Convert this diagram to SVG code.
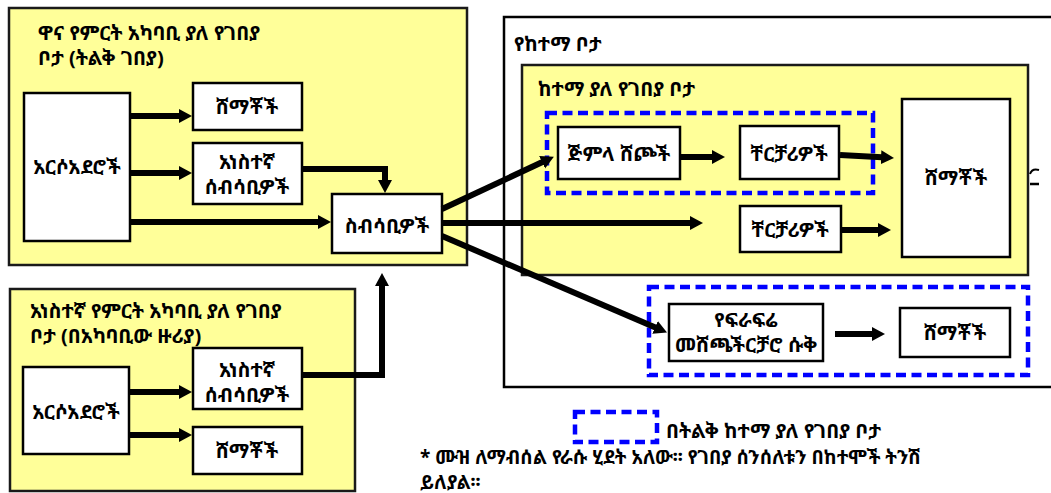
<svg xmlns="http://www.w3.org/2000/svg" width="1051" height="493" viewBox="0 0 1051 493">
<style>
.bg{fill:#ffff99;stroke:#1a1a1a;stroke-width:2.5}
.box{fill:#ffffff;stroke:#000;stroke-width:2.5}
.outer{fill:#ffffff;stroke:#000;stroke-width:2.5}
.dash{fill:none;stroke:#0000ff;stroke-width:4.5;stroke-dasharray:10 5.5}
.t{font-family:"Noto Sans Ethiopic","Abyssinica SIL","Noto Serif Ethiopic","DejaVu Sans",sans-serif;font-size:20px;font-weight:bold;fill:#000}
.f{font-size:19px}
.c{text-anchor:middle}
.ar{fill:none;stroke:#000;stroke-width:6}
</style>
<defs>
<marker id="ah" markerUnits="userSpaceOnUse" viewBox="0 -8 14 16" refX="1" refY="0" markerWidth="14" markerHeight="16" orient="auto">
<path d="M0,-7 L13,0 L0,7 z" fill="#000"/>
</marker>
</defs>

<g id="region-main">
<rect class="bg" x="9" y="8" width="458" height="257"/>
<text class="t" x="38" y="40">ዋና የምርት አካባቢ ያለ የገበያ</text>
<text class="t" x="38" y="65">ቦታ (ትልቅ ገበያ)</text>
</g>
<g id="region-small">
<rect class="bg" x="10" y="289" width="345" height="202"/>
<text class="t" x="30" y="318">አነስተኛ የምርት አካባቢ ያለ የገበያ</text>
<text class="t" x="30" y="343">ቦታ (በአካባቢው ዙሪያ)</text>
</g>
<g id="region-city">
<rect class="outer" x="504" y="17" width="560" height="370"/>
<text class="t" x="514" y="51">የከተማ ቦታ</text>
</g>
<g id="region-city-market">
<rect class="bg" x="522" y="65" width="506" height="210"/>
<text class="t" x="538" y="96">ከተማ ያለ የገበያ ቦታ</text>
</g>
<g id="big-city-1"><rect class="dash" x="547" y="113" width="326" height="80"/></g>
<g id="big-city-2"><rect class="dash" x="649" y="287" width="379" height="88"/></g>

<g id="n-farmers1"><rect class="box" x="24" y="93" width="106" height="148"/><text class="t c" x="77" y="174">አርሶአደሮች</text></g>
<g id="n-consumers1"><rect class="box" x="193" y="83" width="109" height="47"/><text class="t c" x="247" y="114">ሸማቾች</text></g>
<g id="n-smallcoll1"><rect class="box" x="193" y="143" width="109" height="61"/><text class="t c" x="247" y="169">አነስተኛ</text><text class="t c" x="247" y="194">ሰብሳቢዎች</text></g>
<g id="n-collectors"><rect class="box" x="332" y="194" width="110" height="59"/><text class="t c" x="387" y="233">ስብሳቢዎች</text></g>

<g id="n-farmers2"><rect class="box" x="23" y="367" width="106" height="87"/><text class="t c" x="76" y="419">አርሶአደሮች</text></g>
<g id="n-smallcoll2"><rect class="box" x="193" y="348" width="109" height="61"/><text class="t c" x="247" y="377">አነስተኛ</text><text class="t c" x="247" y="402">ሰብሳቢዎች</text></g>
<g id="n-consumers2"><rect class="box" x="193" y="427" width="109" height="47"/><text class="t c" x="247" y="458">ሸማቾች</text></g>

<g id="n-wholesalers"><rect class="box" x="558" y="127" width="122" height="52"/><text class="t c" x="619" y="161">ጅምላ ሸጮች</text></g>
<g id="n-retailers1"><rect class="box" x="740" y="126" width="99" height="53"/><text class="t c" x="789" y="161">ቸርቻሪዎች</text></g>
<g id="n-retailers2"><rect class="box" x="740" y="206" width="101" height="46"/><text class="t c" x="790" y="237">ቸርቻሪዎች</text></g>
<g id="n-consumers3"><rect class="box" x="902" y="99" width="108" height="158"/><text class="t c" x="956" y="185">ሸማቾች</text></g>
<g id="n-fruitshop"><rect class="box" x="669" y="304" width="154" height="57"/><text class="t c" x="746" y="327">የፍራፍሬ</text><text class="t c" x="746" y="352">መሸጫችርቻሮ ሱቅ</text></g>
<g id="n-consumers4"><rect class="box" x="900" y="308" width="110" height="49"/><text class="t c" x="955" y="340">ሸማቾች</text></g>

<g id="connectors">
<path class="ar" d="M130,116 H180" marker-end="url(#ah)"/>
<path class="ar" d="M130,173 H180" marker-end="url(#ah)"/>
<path class="ar" d="M130,222 H319" marker-end="url(#ah)"/>
<path class="ar" d="M302,169 H385 V181" marker-end="url(#ah)"/>
<path class="ar" d="M129,392 H180" marker-end="url(#ah)"/>
<path class="ar" d="M129,435 H180" marker-end="url(#ah)"/>
<path class="ar" d="M302,375 H382 V285" marker-end="url(#ah)"/>
<path class="ar" d="M442,223 H691" marker-end="url(#ah)"/>
<path class="ar" d="M442,209 L543,161.8" marker-end="url(#ah)"/>
<path class="ar" d="M442,236 L656,327.8" marker-end="url(#ah)"/>
<path class="ar" d="M680,157 H713" marker-end="url(#ah)"/>
<path class="ar" d="M840,155 L882,157.3" marker-end="url(#ah)"/>
<path class="ar" d="M841,230 H879" marker-end="url(#ah)"/>
<path class="ar" d="M835,334 H873" marker-end="url(#ah)"/>
<path d="M1030,174 Q1032,168 1039,170" fill="none" stroke="#000" stroke-width="2"/>
<path d="M1030,184 H1039" fill="none" stroke="#000" stroke-width="2.5"/>
</g>

<g id="legend">
<rect class="dash" x="575" y="412" width="82" height="30"/>
<text class="t" x="666" y="438">በትልቅ ከተማ ያለ የገበያ ቦታ</text>
</g>
<g id="footnote">
<text class="t f" x="420" y="464">* ሙዝ ለማብሰል የራሱ ሂደት አለው፡፡ የገበያ ሰንሰለቱን በከተሞች ትንሽ<tspan x="420" y="489">ይለያል፡፡</tspan></text>
</g>
</svg>
